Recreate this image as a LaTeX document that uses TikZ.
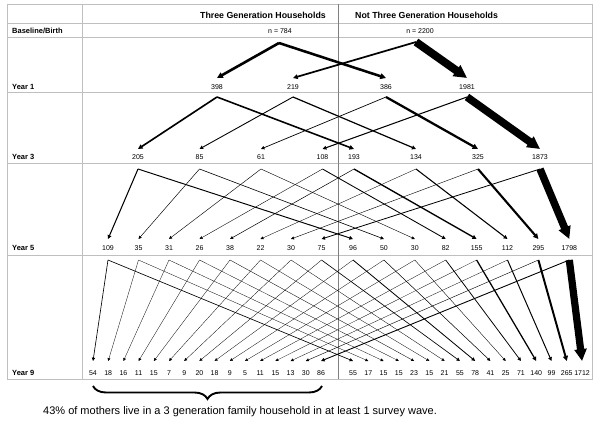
\documentclass[tikz,border=0pt]{standalone}
\usepackage{fontspec}
\setmainfont{Liberation Sans}
\usetikzlibrary{arrows.meta,decorations.pathreplacing}
\begin{document}
\begin{tikzpicture}[x=1pt,y=-1pt,
  grid/.style={draw=black!25, line width=0.7pt},
  midline/.style={draw=black!50, line width=0.8pt},
  rowlabel/.style={anchor=west, font=\fontsize{7.5}{9}\selectfont\bfseries, inner sep=0pt},
  header/.style={font=\fontsize{8.8}{10}\selectfont\bfseries, inner sep=0pt},
  num/.style={font=\fontsize{7}{8}\selectfont, inner sep=0pt},
  flow/.style={-{Triangle[length=2.5pt 1.3,width=2.4pt 1.3]}, line width=#1},
  bracestyle/.style={decorate, decoration={brace, mirror, amplitude=13pt}, line width=1.9pt},
  note/.style={anchor=west, font=\fontsize{11}{13}\selectfont, inner sep=0pt}
]
\useasboundingbox[fill=white] (0,0) rectangle (600,425);
% table grid
\draw[grid] (7,4) rectangle (592,379);
\foreach \yy in {23,37,92,163,255} \draw[grid] (7,\yy) -- (592,\yy);
\draw[grid] (82,4) -- (82,379);
\draw[midline] (338,4) -- (338,379);
% headers and row labels
\node[header, anchor=east] (h3) at (326,15) {Three Generation Households};
\node[header, anchor=west] (hn) at (355,15) {Not Three Generation Households};
\node[rowlabel] (lb) at (12,31) {Baseline/Birth};
\node[rowlabel] (l1) at (12,87) {Year 1};
\node[rowlabel] (l3) at (12,157) {Year 3};
\node[rowlabel] (l5) at (12,248) {Year 5};
\node[rowlabel] (l9) at (12,373) {Year 9};
% baseline
\node[num] (b0) at (280,31) {n = 784};
\node[num] (b1) at (420,31) {n = 2200};
\coordinate (b0-out) at (279,43);
\coordinate (b1-out) at (416,42);
% year 1
\foreach \x/\v [count=\i from 0] in {217/398,293/219,386/386,467/1981} {
  \node[num] (a\i) at (\x,87) {\v};
  \coordinate (a\i-in) at (\x,78);
  \coordinate (a\i-out) at (\x,97);
  \pgfmathtruncatemacro\p{mod(\i,2)}
  \pgfmathsetmacro\w{max(0.3,0.0394*pow(\v,0.7))}
  \draw[flow=\w pt] (b\p-out) -- (a\i-in);
}
% year 3
\foreach \v [count=\i from 0] in {205,85,61,108,193,134,325,1873} {
  \pgfmathsetmacro\x{\i<4 ? 138+61.5*\i : 354+62*(\i-4)}
  \node[num] (c\i) at (\x,157) {\v};
  \coordinate (c\i-in) at (\x,149);
  \coordinate (c\i-out) at (\x,169);
  \pgfmathtruncatemacro\p{mod(\i,4)}
  \pgfmathsetmacro\w{max(0.3,0.0394*pow(\v,0.7))}
  \draw[flow=\w pt] (a\p-out) -- (c\i-in);
}
% year 5
\foreach \v [count=\i from 0] in {109,35,31,26,38,22,30,75,96,50,30,82,155,112,295,1798} {
  \pgfmathsetmacro\x{\i<8 ? 108+30.5*\i : 353+30.9*(\i-8)}
  \node[num] (d\i) at (\x,248) {\v};
  \coordinate (d\i-in) at (\x,239);
  \coordinate (d\i-out) at (\x,260);
  \pgfmathtruncatemacro\p{mod(\i,8)}
  \pgfmathsetmacro\w{max(0.3,0.0394*pow(\v,0.7))}
  \draw[flow=\w pt] (c\p-out) -- (d\i-in);
}
% year 9
\foreach \v [count=\i from 0] in {54,18,16,11,15,7,9,20,18,9,5,11,15,13,30,86,55,17,15,15,23,15,21,55,78,41,25,71,140,99,265,1712} {
  \pgfmathsetmacro\x{\i<16 ? 93+15.2*\i : 353+15.27*(\i-16)}
  \node[num] (e\i) at (\x,373) {\v};
  \coordinate (e\i-in) at (\x,361);
  \pgfmathtruncatemacro\p{mod(\i,16)}
  \pgfmathsetmacro\w{max(0.3,0.0394*pow(\v,0.7))}
  \draw[flow=\w pt] (d\p-out) -- (e\i-in);
}
% brace and note
\coordinate (brL) at (93,386);
\coordinate (brR) at (322,386);
\draw[bracestyle] (brL) -- (brR);
\node[note] (nt) at (43,412) {43\% of mothers live in a 3 generation family household in at least 1 survey wave.};
\end{tikzpicture}
\end{document}
